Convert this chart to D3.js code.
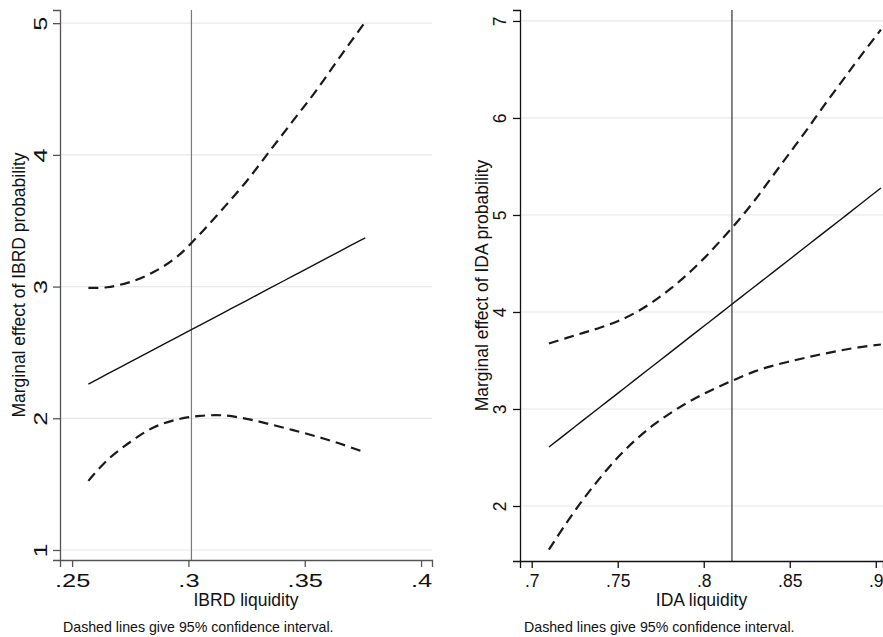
<!DOCTYPE html>
<html>
<head>
<meta charset="utf-8">
<script src="https://cdn.jsdelivr.net/npm/d3@7"></script>
<style>
  html, body { margin: 0; padding: 0; background: #fff; }
  svg { display: block; }
  text { font-family: "Liberation Sans", Arial, sans-serif; fill: #111; }
</style>
</head>
<body>
<svg id="chart" width="883" height="637"></svg>
<script>
// ---------------- Data ----------------
// Left panel: IBRD
const ibrdX     = [0.257, 0.265, 0.275, 0.285, 0.295, 0.305, 0.315, 0.325, 0.335, 0.345, 0.355, 0.365, 0.376];
const ibrdME    = [2.26, 2.335, 2.428, 2.521, 2.615, 2.708, 2.801, 2.894, 2.988, 3.081, 3.174, 3.268, 3.37];
const ibrdUpper = [2.99, 2.995, 3.035, 3.11, 3.225, 3.40, 3.595, 3.80, 4.03, 4.26, 4.49, 4.74, 5.01];
const ibrdLower = [1.525, 1.68, 1.82, 1.93, 1.99, 2.018, 2.022, 1.996, 1.955, 1.91, 1.862, 1.808, 1.74];
const ibrdXTicks = [0.25, 0.3, 0.35, 0.4];
const ibrdXTickLabels = [".25", ".3", ".35", ".4"];
const ibrdYTicks = [1, 2, 3, 4, 5];
const ibrdYTickLabels = ["1", "2", "3", "4", "5"];
const ibrdRef = 0.3013;
const ibrdXDomain = [0.2448, 0.4047];
const ibrdYDomain = [0.924, 5.1];

// Right panel: IDA
const idaX     = [0.710, 0.72, 0.73, 0.74, 0.75, 0.76, 0.77, 0.78, 0.79, 0.80, 0.81, 0.82, 0.83, 0.84, 0.85, 0.86, 0.87, 0.88, 0.89, 0.903];
const idaME    = [2.608, 2.746, 2.885, 3.023, 3.161, 3.300, 3.438, 3.576, 3.715, 3.853, 3.991, 4.130, 4.268, 4.406, 4.544, 4.683, 4.821, 4.959, 5.098, 5.278];
const idaUpper = [3.675, 3.73, 3.785, 3.84, 3.905, 3.99, 4.10, 4.23, 4.38, 4.55, 4.74, 4.94, 5.16, 5.40, 5.64, 5.88, 6.13, 6.37, 6.61, 6.91];
const idaLower = [1.55, 1.82, 2.07, 2.295, 2.50, 2.675, 2.825, 2.95, 3.06, 3.155, 3.24, 3.318, 3.39, 3.445, 3.49, 3.532, 3.57, 3.605, 3.635, 3.665];
const idaXTicks = [0.7, 0.75, 0.8, 0.85, 0.9];
const idaXTickLabels = [".7", ".75", ".8", ".85", ".9"];
const idaYTicks = [2, 3, 4, 5, 6, 7];
const idaYTickLabels = ["2", "3", "4", "5", "6", "7"];
const idaRef = 0.8164;
const idaXDomain = [0.6932, 0.9042];
const idaYDomain = [1.433, 7.113];

const xTitles = ["IBRD liquidity", "IDA liquidity"];
const yTitles = ["Marginal effect of IBRD probability", "Marginal effect of IDA probability"];
const noteText = "Dashed lines give 95% confidence interval.";

// ---------------- Drawing ----------------
const svg = d3.select("#chart");

function stretch(sel, factor) {
  if (factor === 1) return;
  sel.each(function () {
    const w = this.getComputedTextLength();
    d3.select(this).attr("textLength", w * factor).attr("lengthAdjust", "spacingAndGlyphs");
  });
}

function panel(cfg) {
  const x = d3.scaleLinear().domain(cfg.xDomain).range([cfg.left, cfg.right]);
  const y = d3.scaleLinear().domain(cfg.yDomain).range([cfg.bottom, cfg.top]);
  const g = svg.append("g");

  // gridlines
  g.append("g").selectAll("line").data(cfg.yTicks).join("line")
    .attr("x1", cfg.left).attr("x2", cfg.right)
    .attr("y1", d => y(d)).attr("y2", d => y(d))
    .attr("stroke", "#e8e8e8").attr("stroke-width", 1.2);

  // reference vertical line
  g.append("line")
    .attr("x1", x(cfg.ref)).attr("x2", x(cfg.ref))
    .attr("y1", cfg.top).attr("y2", cfg.bottom)
    .attr("stroke", cfg.refColor).attr("stroke-width", 1.2);

  const pts = (arr) => cfg.xs.map((v, i) => [v, arr[i]]);
  const line = d3.line().x(d => x(d[0])).y(d => y(d[1])).curve(d3.curveCatmullRom);

  g.append("path").attr("d", line(pts(cfg.me)))
    .attr("fill", "none").attr("stroke", "#111").attr("stroke-width", 1.4);
  [cfg.upper, cfg.lower].forEach(arr => {
    g.append("path").attr("d", line(pts(arr)))
      .attr("fill", "none").attr("stroke", "#1a1a1a").attr("stroke-width", 2.2)
      .attr("stroke-dasharray", "10,6");
  });

  // x axis
  const xAxis = d3.axisBottom(x).tickValues(cfg.xTicks)
    .tickFormat((d, i) => cfg.xTickLabels[i]).tickSizeOuter(0).tickSize(7);
  const gx = g.append("g").attr("transform", `translate(0,${cfg.bottom})`).call(xAxis);
  gx.select(".domain").attr("stroke", cfg.axisColor).attr("stroke-width", 1.3);
  gx.selectAll(".tick line").attr("stroke", cfg.axisColor).attr("stroke-width", 1.3);
  const xt = gx.selectAll(".tick text").attr("y", 587 - cfg.bottom).attr("dy", 0)
    .attr("font-size", 17.5).attr("fill", "#111")
    .attr("font-family", "Liberation Sans, Arial, sans-serif");
  stretch(xt, cfg.labelStretch);

  // y axis
  const yAxis = d3.axisLeft(y).tickValues(cfg.yTicks)
    .tickFormat((d, i) => cfg.yTickLabels[i]).tickSizeOuter(0).tickSize(7);
  const gy = g.append("g").attr("transform", `translate(${cfg.left},0)`).call(yAxis);
  gy.select(".domain").attr("stroke", cfg.axisColor).attr("stroke-width", 1.3);
  gy.selectAll(".tick line").attr("stroke", cfg.axisColor).attr("stroke-width", 1.3);
  const yt = gy.selectAll(".tick text")
    .attr("transform", "rotate(-90)")
    .attr("x", 0).attr("dy", 0).attr("y", -cfg.yLabelOffset)
    .attr("text-anchor", "middle")
    .attr("font-size", 17.5).attr("fill", "#111")
    .attr("font-family", "Liberation Sans, Arial, sans-serif");
  stretch(yt, cfg.labelStretch);

  // axis titles
  g.append("text")
    .attr("x", (cfg.left + cfg.right) / 2).attr("y", 606)
    .attr("text-anchor", "middle").attr("font-size", 17.5)
    .text(cfg.xTitle);
  g.append("text")
    .attr("transform", `translate(${cfg.yTitleX},${(cfg.top + cfg.bottom) / 2}) rotate(-90)`)
    .attr("text-anchor", "middle").attr("font-size", 17.5)
    .text(cfg.yTitle);

  // note
  g.append("text").attr("x", cfg.noteX).attr("y", 632)
    .attr("font-size", 14.2).text(noteText);
}

panel({
  xs: ibrdX, me: ibrdME, upper: ibrdUpper, lower: ibrdLower,
  xTicks: ibrdXTicks, xTickLabels: ibrdXTickLabels,
  yTicks: ibrdYTicks, yTickLabels: ibrdYTickLabels,
  ref: ibrdRef, xDomain: ibrdXDomain, yDomain: ibrdYDomain,
  left: 60, right: 432, top: 10, bottom: 560,
  refColor: "#7a7a7a", axisColor: "#555", labelStretch: 1.45,
  yLabelOffset: 13, yTitleX: 25, noteX: 63,
  xTitle: xTitles[0], yTitle: yTitles[0]
});

panel({
  xs: idaX, me: idaME, upper: idaUpper, lower: idaLower,
  xTicks: idaXTicks, xTickLabels: idaXTickLabels,
  yTicks: idaYTicks, yTickLabels: idaYTickLabels,
  ref: idaRef, xDomain: idaXDomain, yDomain: idaYDomain,
  left: 520, right: 883, top: 10, bottom: 561,
  refColor: "#333", axisColor: "#111", labelStretch: 1,
  yLabelOffset: 14, yTitleX: 488, noteX: 524,
  xTitle: xTitles[1], yTitle: yTitles[1]
});
</script>
</body>
</html>
